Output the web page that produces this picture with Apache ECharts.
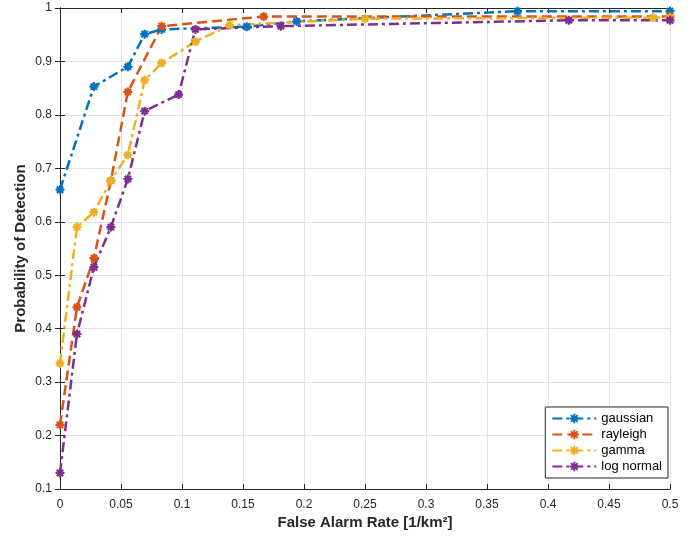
<!DOCTYPE html>
<html>
<head>
<meta charset="utf-8">
<script src="https://cdn.jsdelivr.net/npm/echarts@6/dist/echarts.min.js"></script>
<style>
  html, body { margin: 0; padding: 0; background: #fff; }
  #chart { width: 693px; height: 537px; }
</style>
</head>
<body>
<div id="chart"></div>
<script>
// values
var gaussX = [0, 0.0278, 0.0556, 0.0694, 0.0833, 0.153, 0.194, 0.375, 0.5]
var gaussY = [0.66, 0.853, 0.89, 0.951, 0.96, 0.965, 0.975, 0.994, 0.994]

var rayX = [0, 0.0139, 0.0278, 0.0417, 0.0556, 0.0833, 0.167, 0.5]
var rayY = [0.22, 0.44, 0.532, 0.677, 0.843, 0.966, 0.984, 0.984]

var gammaX = [0, 0.0139, 0.0278, 0.0417, 0.0556, 0.0694, 0.0833, 0.111, 0.139, 0.25, 0.486, 0.5]
var gammaY = [0.335, 0.59, 0.618, 0.677, 0.725, 0.865, 0.897, 0.937, 0.968, 0.98, 0.982, 0.982]

var logX = [0, 0.0139, 0.0278, 0.0417, 0.0556, 0.0694, 0.0972, 0.111, 0.181, 0.417, 0.5]
var logY = [0.13, 0.39, 0.515, 0.59, 0.68, 0.807, 0.838, 0.96, 0.966, 0.977, 0.977]

var names = ['gaussian', 'rayleigh', 'gamma', 'log normal']
var colors = ['#0072BD', '#D95319', '#EDB120', '#7E2F8E']

function pairs(xs, ys) {
  var out = []
  for (var i = 0; i < xs.length; i++) out.push([xs[i], ys[i]])
  return out
}

// matlab-like '*' marker
var star = 'path://M0,-5L0,5M-5,0L5,0M-3.5,-3.5L3.5,3.5M-3.5,3.5L3.5,-3.5'
var dashDot = [10, 4, 3, 4]
var dashed = [10, 5]

function makeSeries(name, data, color, dash) {
  return {
    name: name,
    type: 'line',
    data: data,
    symbol: star,
    symbolSize: 9,
    showSymbol: true,
    animation: false,
    lineStyle: { color: color, width: 2.5, type: dash },
    itemStyle: { color: color, borderColor: color, borderWidth: 2.2 }
  }
}

var font = 'Liberation Sans'
var txt = '#262626'

var chart = echarts.init(document.getElementById('chart'))
var option = {
  backgroundColor: '#fff',
  animation: false,
  grid: { left: 60, right: 23, top: 8, bottom: 48, show: false, outerBoundsMode: 'none' },
  legend: {
    orient: 'vertical',
    right: 25,
    bottom: 59,
    backgroundColor: '#fff',
    borderColor: '#262626',
    borderWidth: 1,
    borderRadius: 0,
    padding: [5, 6, 5, 6],
    itemGap: 3,
    itemWidth: 44,
    itemHeight: 12,
    textStyle: { fontFamily: font, fontSize: 13, color: '#000' },
    data: names
  },
  xAxis: [{
    type: 'value',
    min: 0, max: 0.5, interval: 0.05,
    name: 'False Alarm Rate [1/km²]',
    nameLocation: 'middle',
    nameGap: 26,
    nameMoveOverlap: false,
    nameTextStyle: { fontFamily: font, fontSize: 15, fontWeight: 'bold', color: txt },
    axisLine: { show: true, lineStyle: { color: '#262626', width: 1 } },
    axisTick: { show: true, inside: true, length: 5, lineStyle: { color: '#262626' } },
    axisLabel: { fontFamily: font, fontSize: 12, color: txt, margin: 10 },
    splitLine: { show: true, lineStyle: { color: '#e3e3e3', width: 1 } }
  }, {
    type: 'value', position: 'top',
    min: 0, max: 0.5, interval: 0.05,
    axisLine: { show: true, lineStyle: { color: '#262626', width: 1 } },
    axisTick: { show: true, inside: true, length: 5, lineStyle: { color: '#262626' } },
    axisLabel: { show: false },
    splitLine: { show: false }
  }],
  yAxis: [{
    type: 'value',
    min: 0.1, max: 1, interval: 0.1,
    name: 'Probability of Detection',
    nameLocation: 'middle',
    nameGap: 32,
    nameMoveOverlap: false,
    nameTextStyle: { fontFamily: font, fontSize: 15, fontWeight: 'bold', color: txt },
    axisLine: { show: true, lineStyle: { color: '#262626', width: 1 } },
    axisTick: { show: true, inside: true, length: 5, lineStyle: { color: '#262626' } },
    axisLabel: { fontFamily: font, fontSize: 12, color: txt, margin: 8 },
    splitLine: { show: true, lineStyle: { color: '#e3e3e3', width: 1 } }
  }, {
    type: 'value', position: 'right',
    min: 0.1, max: 1, interval: 0.1,
    axisLine: { show: true, lineStyle: { color: '#262626', width: 1 } },
    axisTick: { show: true, inside: true, length: 5, lineStyle: { color: '#262626' } },
    axisLabel: { show: false },
    splitLine: { show: false }
  }],
  series: [
    makeSeries(names[0], pairs(gaussX, gaussY), colors[0], dashDot),
    makeSeries(names[1], pairs(rayX, rayY), colors[1], dashed),
    makeSeries(names[2], pairs(gammaX, gammaY), colors[2], dashDot),
    makeSeries(names[3], pairs(logX, logY), colors[3], dashDot)
  ]
}
chart.setOption(option)
</script>
</body>
</html>
